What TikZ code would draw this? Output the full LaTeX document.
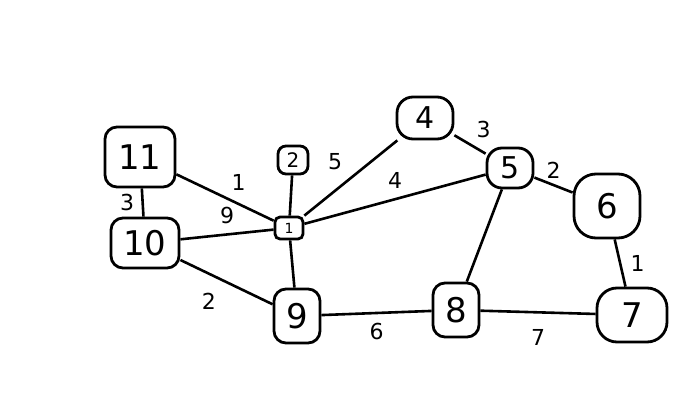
\documentclass[tikz,border=0pt]{standalone}
\usepackage{fontspec}
\setmainfont{DejaVu Sans}
\begin{document}
\begin{tikzpicture}[x=1pt,y=-1pt,
  nd/.style={draw,line width=2.8pt,rounded corners=12pt,inner sep=0pt,font=\fontsize{#1}{#1}\selectfont},
  ed/.style={line width=2.6pt},
  lb/.style={font=\fontsize{22}{22}\selectfont}]
\useasboundingbox (0,0) rectangle (695,414);
\node[nd=34,minimum width=70pt,minimum height=60pt] (n11) at (140,157) {11};
\node[nd=34,minimum width=68pt,minimum height=50pt] (n10) at (145,243) {10};
\node[nd=20,minimum width=30pt,minimum height=28pt,rounded corners=8pt] (n2) at (293,160) {2};
\node[nd=14,minimum width=28pt,minimum height=22pt,rounded corners=5pt] (n1) at (289,228) {1};
\node[nd=34,minimum width=46pt,minimum height=54pt] (n9) at (297,316) {9};
\node[nd=30,minimum width=56pt,minimum height=42pt,rounded corners=16pt] (n4) at (425,118) {4};
\node[nd=30,minimum width=46pt,minimum height=40pt,rounded corners=15pt] (n5) at (510,168) {5};
\node[nd=34,minimum width=66pt,minimum height=64pt,rounded corners=22pt] (n6) at (607,206) {6};
\node[nd=34,minimum width=46pt,minimum height=54pt] (n8) at (456,310) {8};
\node[nd=34,minimum width=70pt,minimum height=54pt,rounded corners=20pt] (n7) at (632,315) {7};
\draw[ed] (n11) -- node[lb,above right=2pt] {1} (n1);
\draw[ed] (n11) -- node[lb,left=4pt] {3} (n10);
\draw[ed] (n10) -- node[lb,above=6pt] {9} (n1);
\draw[ed] (n10) -- node[lb,below left=6pt] {2} (n9);
\draw[ed] (n2) -- (n1);
\draw[ed] (n1) -- (n9);
\draw[ed] (n1) -- node[lb,above left=4pt] {5} (n4);
\draw[ed] (n1) -- node[lb,above=6pt] {4} (n5);
\draw[ed] (n4) -- node[lb,above right=2pt] {3} (n5);
\draw[ed] (n5) -- node[lb,above=2pt] {2} (n6);
\draw[ed] (n5) -- (n8);
\draw[ed] (n9) -- node[lb,below=6pt] {6} (n8);
\draw[ed] (n8) -- node[lb,below=12pt] {7} (n7);
\draw[ed] (n6) -- node[lb,right=6pt] {1} (n7);
\end{tikzpicture}
\end{document}
